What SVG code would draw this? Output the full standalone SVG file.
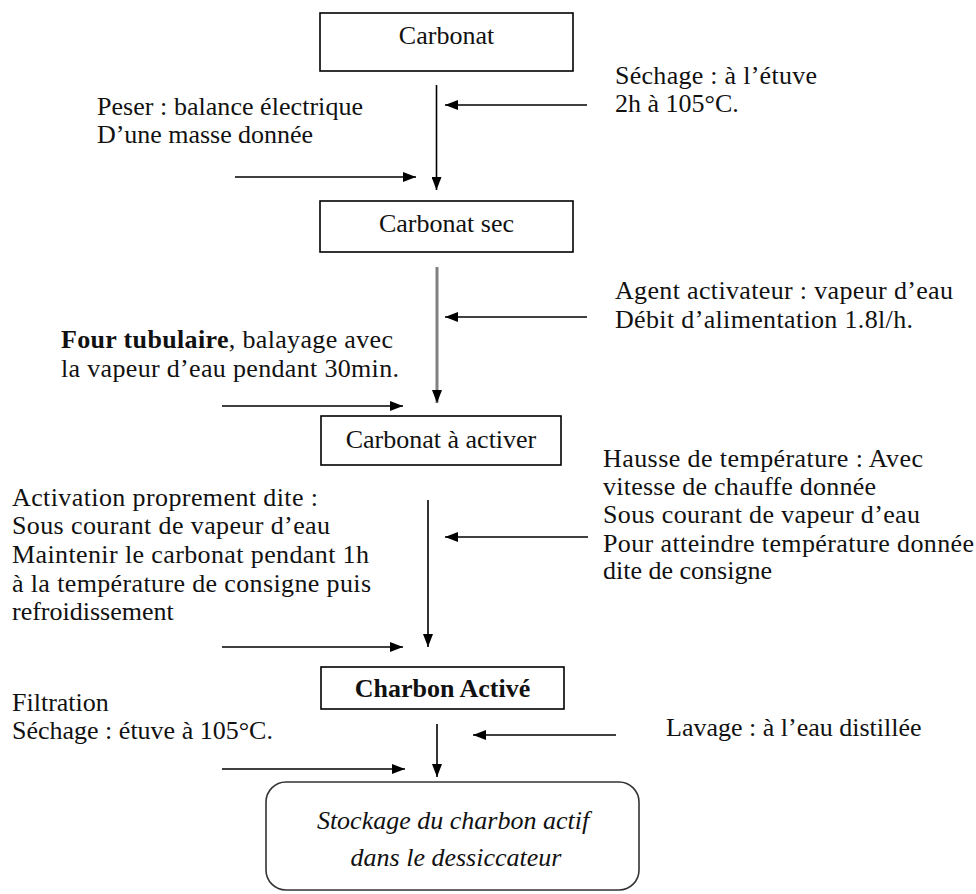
<svg xmlns="http://www.w3.org/2000/svg" width="976" height="894" viewBox="0 0 976 894">
<defs>
<marker id="ah" markerUnits="userSpaceOnUse" viewBox="0 0 13 10" refX="13" refY="5" markerWidth="13" markerHeight="10" orient="auto">
<path d="M0,0 L13,5 L0,10 z" fill="#000"/>
</marker>
<style>
text{font-family:"Liberation Serif","Times New Roman",serif;font-size:26px;fill:#111}
.box{fill:#fff;stroke:#000;stroke-width:1.6}
.c{text-anchor:middle}
.b{font-weight:bold}
.i{font-style:italic}
.ln{stroke:#000;stroke-width:1.6;fill:none;marker-end:url(#ah)}
.gr{stroke:#808080;stroke-width:3;fill:none;marker-end:url(#ah)}
</style>
</defs>
<rect width="976" height="894" fill="#fff"/>

<g id="connectors">
<line class="ln" x1="436.5" y1="85" x2="436.5" y2="190"/>
<line class="ln" x1="587" y1="105" x2="445" y2="105"/>
<line class="ln" x1="235" y1="177" x2="416" y2="177"/>
<line class="gr" x1="437" y1="267" x2="437" y2="403"/>
<line class="ln" x1="587" y1="317" x2="445" y2="317"/>
<line class="ln" x1="222" y1="406" x2="403" y2="406"/>
<line class="ln" x1="428" y1="500" x2="428" y2="647"/>
<line class="ln" x1="588" y1="537" x2="445" y2="537"/>
<line class="ln" x1="222" y1="647" x2="403" y2="647"/>
<line class="ln" x1="437" y1="724" x2="437" y2="777"/>
<line class="ln" x1="616" y1="735" x2="473" y2="735"/>
<line class="ln" x1="222" y1="769" x2="405" y2="769"/>
</g>

<g id="carbonat">
<rect class="box" x="320" y="13" width="253" height="58"/>
<text class="c" x="446.5" y="44">Carbonat</text>
</g>

<g id="carbonat-sec">
<rect class="box" x="320" y="201" width="253" height="51"/>
<text class="c" x="446.5" y="232">Carbonat sec</text>
</g>

<g id="carbonat-a-activer">
<rect class="box" x="321" y="416" width="240" height="49"/>
<text class="c" x="441" y="448">Carbonat à activer</text>
</g>

<g id="charbon-active">
<rect class="box" x="321" y="667" width="243" height="42"/>
<text class="c b" x="442.5" y="697">Charbon Activé</text>
</g>

<g id="stockage">
<rect class="box" x="266" y="782" width="373" height="108" rx="20" ry="20" style="stroke:#333"/>
<text class="c i" x="453" y="829">Stockage du charbon actif</text>
<text class="c i" x="456" y="866">dans le dessiccateur</text>
</g>

<g id="label-sechage">
<text x="615" y="84" textLength="202" lengthAdjust="spacing">Séchage : à l’étuve</text>
<text x="615" y="112">2h à 105°C.</text>
</g>

<g id="label-peser">
<text x="97" y="115" textLength="266" lengthAdjust="spacing">Peser : balance électrique</text>
<text x="97" y="143" textLength="216" lengthAdjust="spacing">D’une masse donnée</text>
</g>

<g id="label-agent">
<text x="615" y="299" textLength="338" lengthAdjust="spacing">Agent activateur : vapeur d’eau</text>
<text x="615" y="328" textLength="298" lengthAdjust="spacing">Débit d’alimentation 1.8l/h.</text>
</g>

<g id="label-four">
<text x="61" y="348" textLength="332" lengthAdjust="spacing"><tspan class="b">Four tubulaire</tspan>, balayage avec</text>
<text x="61" y="377" textLength="338" lengthAdjust="spacing">la vapeur d’eau pendant 30min.</text>
</g>

<g id="label-activation">
<text x="12" y="506" textLength="306" lengthAdjust="spacing">Activation proprement dite :</text>
<text x="12" y="534" textLength="318" lengthAdjust="spacing">Sous courant de vapeur d’eau</text>
<text x="12" y="563" textLength="357" lengthAdjust="spacing">Maintenir le carbonat pendant 1h</text>
<text x="12" y="592" textLength="359" lengthAdjust="spacing">à la température de consigne puis</text>
<text x="12" y="620">refroidissement</text>
</g>

<g id="label-hausse">
<text x="603" y="467" textLength="320" lengthAdjust="spacing">Hausse de température : Avec</text>
<text x="603" y="495" textLength="273" lengthAdjust="spacing">vitesse de chauffe donnée</text>
<text x="603" y="523" textLength="317" lengthAdjust="spacing">Sous courant de vapeur d’eau</text>
<text x="603" y="552" textLength="371" lengthAdjust="spacing">Pour atteindre température donnée</text>
<text x="603" y="579">dite de consigne</text>
</g>

<g id="label-filtration">
<text x="12" y="711">Filtration</text>
<text x="12" y="739">Séchage : étuve à 105°C.</text>
</g>

<g id="label-lavage">
<text x="666" y="736">Lavage : à l’eau distillée</text>
</g>
</svg>
